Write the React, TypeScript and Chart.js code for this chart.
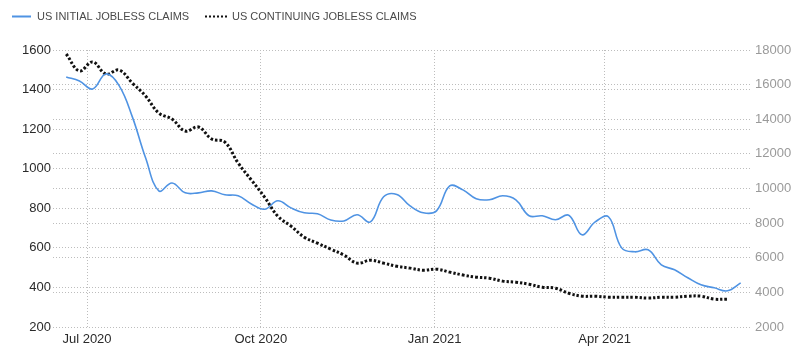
import React, { useEffect, useRef } from "react";
import { Chart, registerables } from "chart.js";

Chart.register(...registerables);

const weekEnding: string[] = [
  "2020-06-20", "2020-06-27", "2020-07-04", "2020-07-11", "2020-07-18", "2020-07-25",
  "2020-08-01", "2020-08-08", "2020-08-15", "2020-08-22", "2020-08-29", "2020-09-05",
  "2020-09-12", "2020-09-19", "2020-09-26", "2020-10-03", "2020-10-10", "2020-10-17",
  "2020-10-24", "2020-10-31", "2020-11-07", "2020-11-14", "2020-11-21", "2020-11-28",
  "2020-12-05", "2020-12-12", "2020-12-19", "2020-12-26", "2021-01-02", "2021-01-09",
  "2021-01-16", "2021-01-23", "2021-01-30", "2021-02-06", "2021-02-13", "2021-02-20",
  "2021-02-27", "2021-03-06", "2021-03-13", "2021-03-20", "2021-03-27", "2021-04-03",
  "2021-04-10", "2021-04-17", "2021-04-24", "2021-05-01", "2021-05-08", "2021-05-15",
  "2021-05-22", "2021-05-29", "2021-06-05", "2021-06-12",
];

// US initial jobless claims (thousands)
const initialClaims: number[] = [
  1464, 1443, 1403, 1479, 1420, 1262, 1055, 888, 928, 878, 878, 888,
  868, 863, 822, 795, 838, 802, 777, 772, 741, 736, 767, 731,
  858, 870, 812, 777, 787, 913, 893, 848, 843, 863, 843, 762,
  762, 742, 765, 666, 731, 757, 600, 580, 590, 514, 489, 449,
  413, 398, 383, 423,
];

// US continuing jobless claims (thousands)
const continuingClaims: number[] = [
  17770, 16790, 17310, 16610, 16840, 16090, 15340, 14360, 14010, 13320, 13550, 12860,
  12680, 11470, 10490, 9500, 8400, 7830, 7190, 6840, 6500, 6150, 5690, 5860,
  5690, 5510, 5400, 5280, 5340, 5170, 5000, 4880, 4820, 4650, 4590, 4470,
  4300, 4240, 3950, 3780, 3780, 3720, 3720, 3720, 3670, 3720, 3720, 3780,
  3780, 3610, 3610,
];

const tickDates: string[] = ["2020-07-01", "2020-10-01", "2021-01-01", "2021-04-01"];
const tickLabels: string[] = ["Jul 2020", "Oct 2020", "Jan 2021", "Apr 2021"];

const seriesNames: string[] = ["US INITIAL JOBLESS CLAIMS", "US CONTINUING JOBLESS CLAIMS"];

const EPOCH = Date.UTC(2020, 6, 1);
const toDay = (s: string) => {
  const [y, m, d] = s.split("-").map(Number);
  return (Date.UTC(y, m - 1, d) - EPOCH) / 86400000;
};

const BLUE = "#4f93e3";
const FONT = "'Liberation Sans', Arial, sans-serif";
const GRID = "#bdbdbd";

const legendPlugin = {
  id: "customLegend",
  afterDraw(chart: any) {
    const ctx = chart.ctx;
    ctx.save();
    ctx.font = `11px ${FONT}`;
    ctx.textBaseline = "middle";
    ctx.fillStyle = "#4a4a4a";
    const y = 16.5;
    ctx.strokeStyle = BLUE;
    ctx.lineWidth = 2;
    ctx.beginPath();
    ctx.moveTo(12, y);
    ctx.lineTo(31, y);
    ctx.stroke();
    ctx.fillText(seriesNames[0], 37, y);
    ctx.strokeStyle = "#111";
    ctx.lineWidth = 2;
    ctx.setLineDash([2, 2]);
    ctx.beginPath();
    ctx.moveTo(205, y);
    ctx.lineTo(227, y);
    ctx.stroke();
    ctx.setLineDash([]);
    ctx.fillText(seriesNames[1], 232, y);
    ctx.restore();
  },
};

export default function App() {
  const ref = useRef<HTMLCanvasElement>(null);
  useEffect(() => {
    if (!ref.current) return;
    const days = weekEnding.map(toDay);
    const tickDays = tickDates.map(toDay);
    const chart = new Chart(ref.current, {
      type: "line",
      data: {
        datasets: [
          {
            label: seriesNames[0],
            data: initialClaims.map((v, i) => ({ x: days[i], y: v })),
            borderColor: BLUE,
            borderWidth: 1.6,
            pointRadius: 0,
            tension: 0.4,
            yAxisID: "y",
          },
          {
            label: seriesNames[1],
            data: continuingClaims.map((v, i) => ({ x: days[i], y: v })),
            borderColor: "#111",
            borderWidth: 3,
            borderDash: [2.5, 2],
            pointRadius: 0,
            tension: 0.4,
            yAxisID: "y1",
          },
        ],
      },
      options: {
        animation: false,
        responsive: true,
        maintainAspectRatio: false,
        layout: { padding: { top: 50, left: 0, right: 0, bottom: 0 } },
        plugins: { legend: { display: false }, tooltip: { enabled: false } },
        scales: {
          x: {
            type: "linear",
            min: -18,
            max: 352,
            afterBuildTicks: (scale: any) => {
              scale.ticks = tickDays.map((v) => ({ value: v }));
            },
            afterFit: (scale: any) => {
              scale.height = 34;
            },
            ticks: {
              padding: 5,
              color: "#2a2a2a",
              font: { family: FONT, size: 13 },
              maxRotation: 0,
              autoSkip: false,
              callback: (v: any) => {
                const i = tickDays.indexOf(Number(v));
                return i >= 0 ? tickLabels[i] : "";
              },
            },
            grid: { color: GRID, lineWidth: 1, drawTicks: false },
            border: { display: false, dash: [1, 2] },
          },
          y: {
            position: "left",
            min: 200,
            max: 1600,
            afterFit: (scale: any) => {
              scale.width = 53;
            },
            ticks: {
              stepSize: 200,
              padding: 2,
              color: "#2a2a2a",
              font: { family: FONT, size: 13 },
              callback: (v: any) => String(v),
            },
            grid: { color: GRID, lineWidth: 1, drawTicks: false },
            border: { display: false, dash: [1, 2] },
          },
          y1: {
            position: "right",
            min: 2000,
            max: 18000,
            afterFit: (scale: any) => {
              scale.width = 48;
            },
            ticks: {
              stepSize: 2000,
              padding: 3,
              color: "#9a9a9a",
              font: { family: FONT, size: 13 },
              callback: (v: any) => String(v),
            },
            grid: { color: GRID, lineWidth: 1, drawTicks: false },
            border: { display: false, dash: [1, 2] },
          },
        },
      },
      plugins: [legendPlugin],
    } as any);
    return () => chart.destroy();
  }, []);
  return (
    <div style={{ position: "absolute", left: 0, top: 0, width: 800, height: 361, background: "#fff" }}>
      <canvas ref={ref} />
    </div>
  );
}
